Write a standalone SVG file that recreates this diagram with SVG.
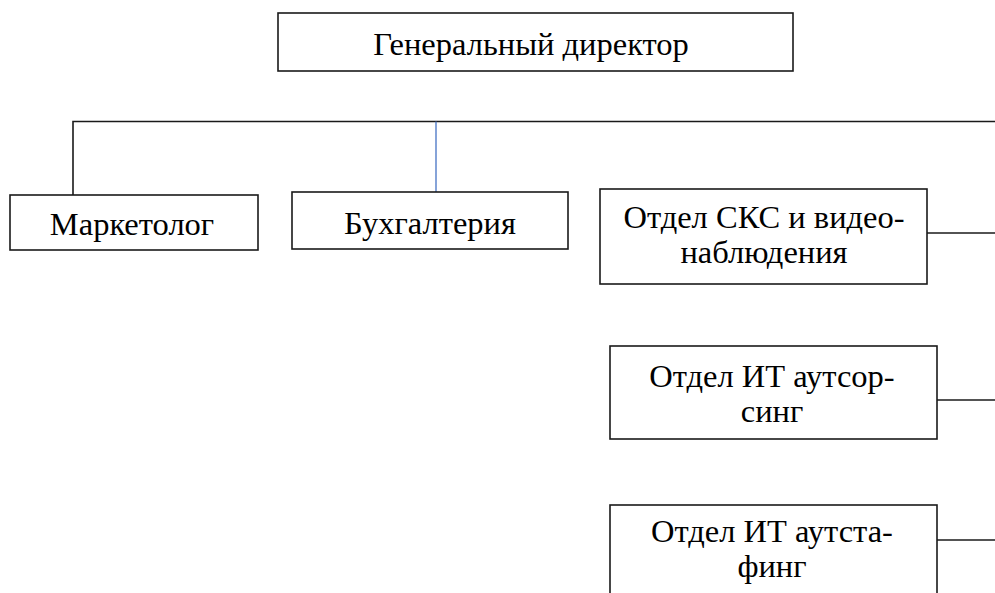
<svg xmlns="http://www.w3.org/2000/svg" width="995" height="593" viewBox="0 0 995 593">
<style>
.box{fill:#fff;stroke:#1a1a1a;stroke-width:1.6}
.ln{fill:none;stroke:#1a1a1a;stroke-width:1.6}
.blue{fill:none;stroke:#4472c4;stroke-width:1.3}
.t{font-family:'Liberation Serif','Times New Roman',serif;font-size:32.5px;fill:#000;text-anchor:middle}
</style>
<rect width="995" height="593" fill="#fff"/>
<g id="connectors">
<path class="ln" d="M73,195 V121.5 H995"/>
<path class="blue" d="M436,121.5 V192"/>
<path class="ln" d="M927,233 H995"/>
<path class="ln" d="M937,400 H995"/>
<path class="ln" d="M937,540 H995"/>
</g>
<g id="director">
<rect class="box" x="278" y="13" width="515" height="58"/>
<text class="t" x="531" y="55">Генеральный директор</text>
</g>
<g id="marketing">
<rect class="box" x="10" y="195" width="248" height="55"/>
<text class="t" x="132" y="235">Маркетолог</text>
</g>
<g id="accounting">
<rect class="box" x="292" y="192" width="276" height="57"/>
<text class="t" x="430" y="234">Бухгалтерия</text>
</g>
<g id="sks">
<rect class="box" x="600" y="189" width="327" height="95"/>
<text class="t" x="764" y="228">Отдел СКС и видео-</text>
<text class="t" x="764" y="263">наблюдения</text>
</g>
<g id="outsourcing">
<rect class="box" x="610" y="346" width="327" height="93"/>
<text class="t" x="772" y="387">Отдел ИТ аутсор-</text>
<text class="t" x="772" y="422">синг</text>
</g>
<g id="outstaffing">
<rect class="box" x="610" y="505" width="327" height="100"/>
<text class="t" x="772" y="542">Отдел ИТ аутста-</text>
<text class="t" x="772" y="577">финг</text>
</g>
</svg>
